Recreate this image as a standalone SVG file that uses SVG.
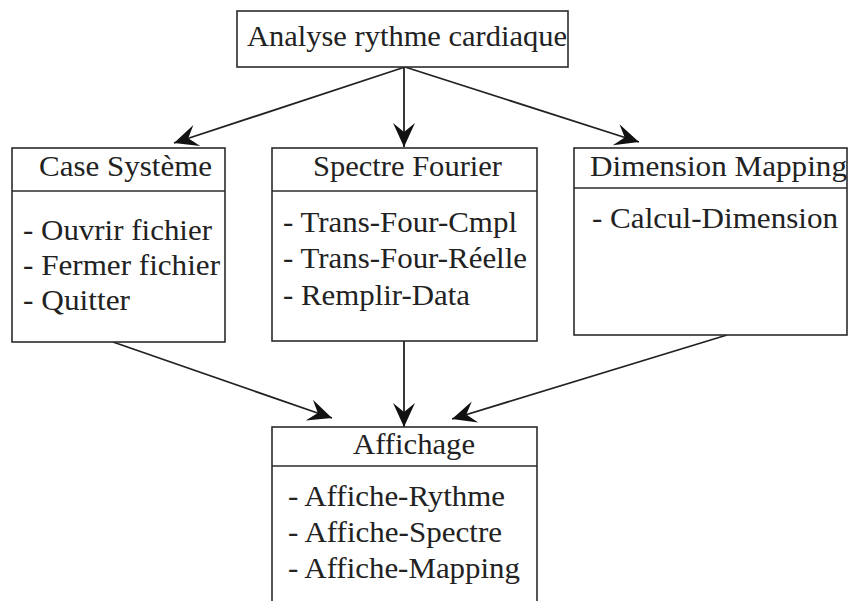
<svg xmlns="http://www.w3.org/2000/svg" width="851" height="601" viewBox="0 0 851 601">
<style>
.box{fill:#fff;stroke:#2b2b2b;stroke-width:1.6}
.div{stroke:#2b2b2b;stroke-width:1.6}
.t{font-family:"Liberation Serif","Times New Roman",serif;font-size:30px;fill:#222}
.c{fill:none;stroke:#222;stroke-width:1.8}
</style>
<defs>
<marker id="ah" markerUnits="userSpaceOnUse" viewBox="-26 -12 28 24" refX="0" refY="0" markerWidth="28" markerHeight="24" orient="auto">
<path d="M0,0 L-24,-11 L-15,0 L-24,11 Z" fill="#111"/>
</marker>
</defs>
<rect width="851" height="601" fill="#fff"/>
<g id="connectors">
<line class="c" x1="405" y1="67" x2="174" y2="143" marker-end="url(#ah)"/>
<line class="c" x1="404" y1="67" x2="404" y2="147" marker-end="url(#ah)"/>
<line class="c" x1="405" y1="67" x2="639" y2="142" marker-end="url(#ah)"/>
<line class="c" x1="113" y1="342" x2="332" y2="418" marker-end="url(#ah)"/>
<line class="c" x1="404" y1="341" x2="404" y2="427" marker-end="url(#ah)"/>
<line class="c" x1="727" y1="335" x2="452" y2="419" marker-end="url(#ah)"/>
</g>
<g id="analyse">
<rect class="box" x="237" y="11" width="331" height="56"/>
<text class="t" x="247" y="46" textLength="320" lengthAdjust="spacingAndGlyphs">Analyse rythme cardiaque</text>
</g>
<g id="case-systeme">
<rect class="box" x="12" y="148" width="213" height="194"/>
<line class="div" x1="12" y1="191" x2="225" y2="191"/>
<text class="t" x="39" y="176" textLength="173" lengthAdjust="spacingAndGlyphs">Case Système</text>
<text class="t" x="23" y="240" textLength="189" lengthAdjust="spacingAndGlyphs">- Ouvrir fichier</text>
<text class="t" x="23" y="275" textLength="197" lengthAdjust="spacingAndGlyphs">- Fermer fichier</text>
<text class="t" x="23" y="310" textLength="107" lengthAdjust="spacingAndGlyphs">- Quitter</text>
</g>
<g id="spectre-fourier">
<rect class="box" x="272" y="148" width="265" height="193"/>
<line class="div" x1="272" y1="191" x2="537" y2="191"/>
<text class="t" x="313" y="176" textLength="189" lengthAdjust="spacingAndGlyphs">Spectre Fourier</text>
<text class="t" x="283" y="232" textLength="234" lengthAdjust="spacingAndGlyphs">- Trans-Four-Cmpl</text>
<text class="t" x="283" y="268" textLength="244" lengthAdjust="spacingAndGlyphs">- Trans-Four-Réelle</text>
<text class="t" x="283" y="305" textLength="187" lengthAdjust="spacingAndGlyphs">- Remplir-Data</text>
</g>
<g id="dimension-mapping">
<rect class="box" x="574" y="148" width="273" height="187"/>
<line class="div" x1="574" y1="188" x2="847" y2="188" stroke-width="2.6"/>
<text class="t" x="590" y="176" textLength="257" lengthAdjust="spacingAndGlyphs">Dimension Mapping</text>
<text class="t" x="592" y="228" textLength="246" lengthAdjust="spacingAndGlyphs">- Calcul-Dimension</text>
</g>
<g id="affichage">
<rect class="box" x="272" y="427" width="265" height="190"/>
<line class="div" x1="272" y1="466" x2="537" y2="466"/>
<text class="t" x="353" y="454" textLength="122" lengthAdjust="spacingAndGlyphs">Affichage</text>
<text class="t" x="288" y="506" textLength="217" lengthAdjust="spacingAndGlyphs">- Affiche-Rythme</text>
<text class="t" x="288" y="542" textLength="214" lengthAdjust="spacingAndGlyphs">- Affiche-Spectre</text>
<text class="t" x="288" y="578" textLength="232" lengthAdjust="spacingAndGlyphs">- Affiche-Mapping</text>
</g>
</svg>
